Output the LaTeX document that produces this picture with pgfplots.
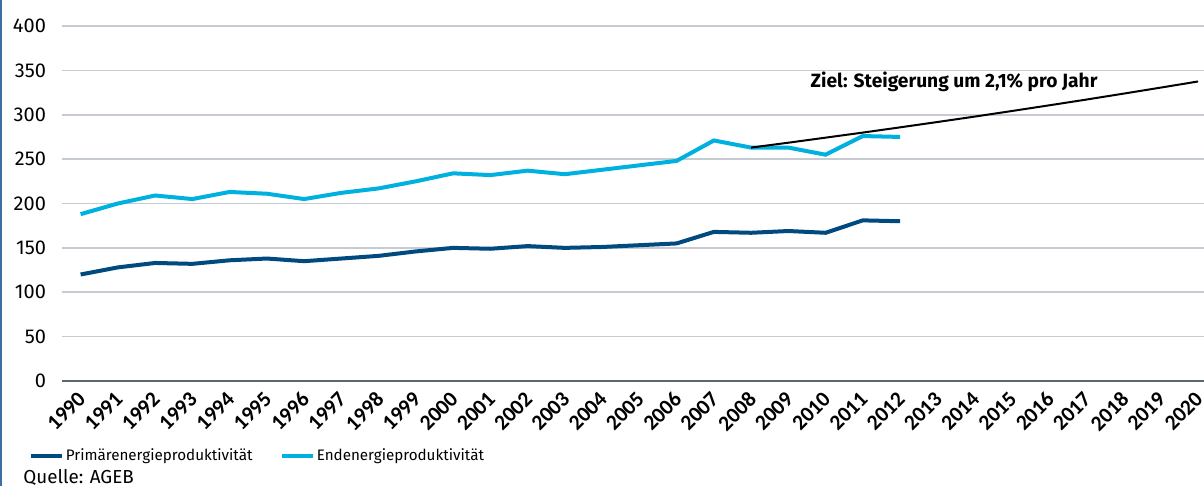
\documentclass[border=0pt]{standalone}
\usepackage{fontspec}
\setmainfont{Fira Sans}
\newfontfamily\xfont{Carlito}
\usepackage{pgfplots}
\pgfplotsset{compat=1.18}
\definecolor{dblue}{HTML}{004A7F}
\definecolor{lblue}{HTML}{00B1DF}
\definecolor{gridc}{HTML}{C5CBD1}
\definecolor{axisc}{HTML}{5B6770}
\definecolor{framec}{HTML}{3F6F9E}
\begin{document}
\begin{tikzpicture}
\begin{axis}[
  scale only axis, width=571pt, height=177.5pt,
  at={(0,0)}, anchor=south west,
  xmin=1989.5, xmax=2020.16, ymin=0, ymax=400,
  xtick={1990,...,2020}, ytick={0,50,...,400},
  axis line style={draw=none},
  major tick length=0pt,
  ymajorgrids, grid style={gridc, line width=0.8pt},
  /pgf/number format/assume math mode=true,
  /pgf/number format/1000 sep={},
  x tick label style={font=\xfont\bfseries\fontsize{10.8}{10.8}\selectfont, yshift=-4.5pt, xshift=-2pt, rotate=45, anchor=north east, inner sep=0pt},
  y tick label style={font=\fontsize{10}{11}\selectfont, xshift=-4.5pt},
  legend style={at={(-0.029,-0.185)}, anchor=north west, draw=none, fill=none,
    font=\fontsize{7.6}{9}\selectfont, legend columns=2, inner sep=0pt,
    nodes={inner sep=0.8pt},
    /tikz/every even column/.append style={column sep=13pt}},
  legend image code/.code={\draw[#1, line width=2pt] (0pt,0pt) -- (15.5pt,0pt);},
  clip=false,
]
\draw[axisc, line width=1pt] (rel axis cs:0,0) -- (rel axis cs:1,0);
\addplot[dblue, line width=2pt] coordinates {
(1990,120) (1991,128) (1992,133) (1993,132) (1994,136) (1995,138) (1996,135)
(1997,138) (1998,141) (1999,146) (2000,150) (2001,149) (2002,152) (2003,150)
(2004,151) (2005,153) (2006,155) (2007,168) (2008,167) (2009,169) (2010,167)
(2011,181) (2012,180)};
\addlegendentry{Primärenergieproduktivität}
\addplot[lblue, line width=2pt] coordinates {
(1990,188) (1991,200) (1992,209) (1993,205) (1994,213) (1995,211) (1996,205)
(1997,212) (1998,217) (1999,225) (2000,234) (2001,232) (2002,237) (2003,233)
(2004,238) (2005,243) (2006,248) (2007,271) (2008,263) (2009,263) (2010,255)
(2011,276) (2012,275)};
\addlegendentry{Endenergieproduktivität}
\addplot[black, line width=1pt, forget plot] coordinates {
(2008,263) (2009,268.5) (2010,274.2) (2011,279.9) (2012,285.8) (2013,291.8)
(2014,297.9) (2015,304.2) (2016,310.6) (2017,317.1) (2018,323.8) (2019,330.6) (2020,337.5)};
\node[font=\bfseries\fontsize{9.6}{10}\selectfont] at (axis cs:2013.45,337) {Ziel: Steigerung um 2,1\% pro Jahr};
\end{axis}
\node[anchor=west, font=\fontsize{9.4}{10}\selectfont, inner sep=0pt] at (-19.5pt,-48pt) {Quelle: AGEB};
\pgfresetboundingbox
\useasboundingbox (-31pt,-52.5pt) rectangle (571pt,190.5pt);
\draw[framec, line width=0.8pt] (-30.5pt,-52.5pt) -- (-30.5pt,190.5pt);
\end{tikzpicture}
\end{document}
